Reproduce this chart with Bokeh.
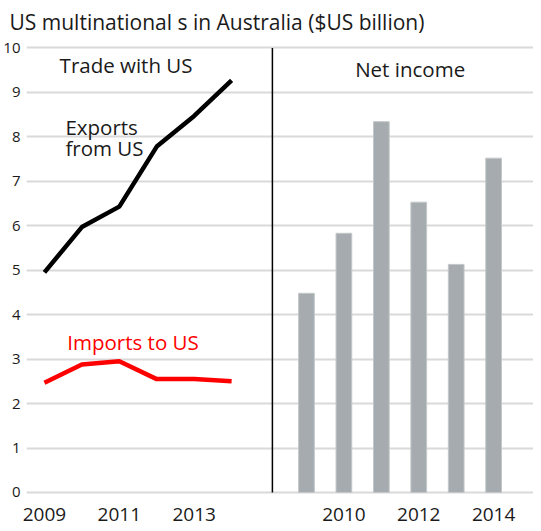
from bokeh.plotting import figure
from bokeh.models import FixedTicker, Label
from bokeh.embed import file_html
from bokeh.resources import INLINE

years = [2009, 2010, 2011, 2012, 2013, 2014]
exports_from_us = [4.95, 5.97, 6.43, 7.78, 8.47, 9.27]
imports_to_us = [2.47, 2.88, 2.95, 2.55, 2.55, 2.50]
net_income = [4.48, 5.83, 8.34, 6.53, 5.13, 7.52]
left_tick_labels = ["2009", "2011", "2013"]
right_tick_labels = ["2010", "2012", "2014"]
y_ticks = list(range(0, 11))

FONT = "Open Sans"
TXT = "#1a1a1a"
RIGHT_OFFSET = 7  # right panel slot offset

p = figure(width=533, height=523, output_backend="svg", toolbar_location=None,
           x_range=(-0.479, 13.065), y_range=(-0.068, 10.144),
           min_border_left=0, min_border_right=0, min_border_top=0, min_border_bottom=0)
p.title.text = "US multinational s in Australia ($US billion)"
p.title.text_font = FONT
p.title.text_font_size = "21px"
p.title.text_font_style = "normal"
p.title.text_color = TXT
p.title.offset = -17
p.title.standoff = 11
p.outline_line_color = None
p.background_fill_color = "white"

p.xgrid.grid_line_color = None
p.ygrid.grid_line_color = "#d9d9d9"
p.ygrid.grid_line_width = 2
p.ygrid.ticker = FixedTicker(ticks=y_ticks)
p.yaxis.ticker = FixedTicker(ticks=y_ticks)
p.yaxis.axis_line_color = None
p.yaxis.major_tick_line_color = None
p.yaxis.minor_tick_line_color = None
p.yaxis.major_label_text_font = FONT
p.yaxis.major_label_text_font_size = "15px"
p.yaxis.major_label_text_color = TXT
p.yaxis.major_label_standoff = 0

lx = [y - years[0] for y in years]
rx = [y - years[0] + RIGHT_OFFSET for y in years]
tick_pos = [int(t) - years[0] for t in left_tick_labels] + [int(t) - years[0] + RIGHT_OFFSET for t in right_tick_labels]
p.xaxis.ticker = FixedTicker(ticks=tick_pos)
p.xaxis.major_label_overrides = {pos: lab for pos, lab in zip(tick_pos, left_tick_labels + right_tick_labels)}
p.xaxis.axis_line_color = None
p.xaxis.major_tick_line_color = None
p.xaxis.minor_tick_line_color = None
p.xaxis.major_label_text_font = FONT
p.xaxis.major_label_text_font_size = "19px"
p.xaxis.major_label_text_color = TXT
p.xaxis.major_label_standoff = 6

p.line(lx, exports_from_us, line_color="black", line_width=4.5)
p.line(lx, imports_to_us, line_color="#ff0000", line_width=4.5)

p.vbar(x=rx, top=net_income, bottom=0, width=0.42, fill_color="#a5abae", line_color="#c3c7c9", line_width=1)

p.segment(x0=[6.09], y0=[0], x1=[6.09], y1=[10], line_color="black", line_width=1.5)

def lab(x, y, text, color=TXT, align="left"):
    p.add_layout(Label(x=x, y=y, text=text, text_font=FONT, text_font_size="20.5px",
                       text_color=color, text_align=align, text_baseline="middle"))

lab(2.18, 9.62, "Trade with US", align="center")
lab(9.77, 9.53, "Net income", align="center")
lab(0.56, 8.22, "Exports")
lab(0.56, 7.75, "from US")
lab(0.61, 3.38, "Imports to US", color="#ff0000")

open("out.html", "w").write(file_html(p, INLINE))
